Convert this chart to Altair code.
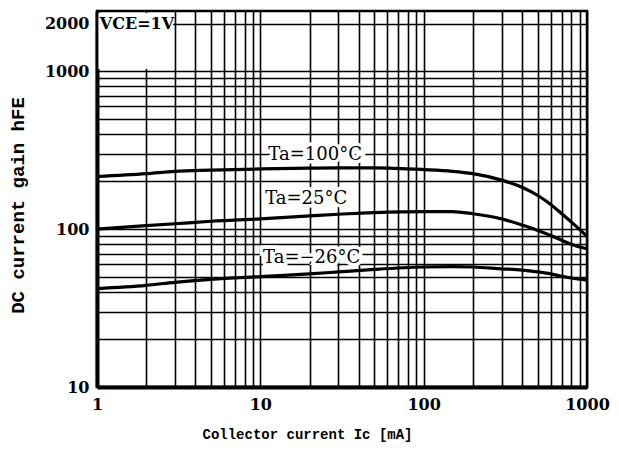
import altair as alt
import pandas as pd

# Collector current Ic [mA]
ic = [1, 2, 3, 5, 10, 20, 30, 50, 100, 150, 200, 300, 400, 500, 600, 700, 800, 1000]
# DC current gain hFE for each ambient temperature
h_100 = [215, 224, 232, 236, 240, 243, 244, 244, 238, 232, 224, 204, 184, 163, 143, 125, 111, 90]
h_25 = [100, 105, 108, 112, 116, 121, 124, 127, 129, 129, 125, 116, 106, 98, 91, 85, 80, 75]
h_m25 = [42, 44, 46, 48, 50, 52, 53.5, 55.5, 57.5, 57.8, 57.5, 56, 55, 53.5, 52, 50.2, 49, 47.5]

series_names = ["Ta=100°C", "Ta=25°C", "Ta=−26°C"]

label_text = ["Ta=100°C", "Ta=25°C", "Ta=−26°C"]
label_x = [11.2, 10.7, 10.4]
label_y = [295, 156, 66]

cond_text = ["VCE=1V"]
cond_x = [1.04]
cond_y = [2000]

box_x = [1.02]
box_x2 = [2.93]
box_y = [1030]
box_y2 = [2330]

x_ticks = [1, 2, 3, 4, 5, 6, 7, 8, 9,
           10, 20, 30, 40, 50, 60, 70, 80, 90,
           100, 200, 300, 400, 500, 600, 700, 800, 900, 1000]
y_ticks = [10, 20, 30, 40, 50, 60, 70, 80, 90,
           100, 200, 300, 400, 500, 600, 700, 800, 900, 1000, 2000]

rows = []
for name, vals in zip(series_names, [h_100, h_25, h_m25]):
    for xv, yv in zip(ic, vals):
        rows.append({"ic": xv, "hfe": yv, "series": name})
curves = pd.DataFrame(rows)
labels = pd.DataFrame({"t": label_text, "x": label_x, "y": label_y})
cond = pd.DataFrame({"t": cond_text, "x": cond_x, "y": cond_y})
box = pd.DataFrame({"x": box_x, "x2": box_x2, "y": box_y, "y2": box_y2})

xscale = alt.Scale(type="log", domain=[1, 1000], nice=False)
yscale = alt.Scale(type="log", domain=[10, 2400], nice=False)

xaxis = alt.Axis(
    values=x_ticks,
    format="d",
    labelExpr="(datum.value==1||datum.value==10||datum.value==100||datum.value==1000) ? datum.label : ''",
    labelOverlap=False,
    labelFlush=False,
    title="Collector current Ic [mA]",
    titleX=210, titleY=47, titleAlign="center", titleBaseline="middle",
    titleFont="Liberation Mono", titleFontSize=14, titleFontWeight="bold",
    labelPadding=9,
)
yaxis = alt.Axis(
    values=y_ticks,
    format="d",
    labelExpr="(datum.value==10||datum.value==100||datum.value==1000||datum.value==2000) ? datum.label : ''",
    labelOverlap=False,
    labelFlush=False,
    title="DC current gain hFE",
    titleX=-80, titleY=194, titleAlign="center", titleBaseline="middle",
    titleFont="Liberation Mono", titleFontSize=19, titleFontWeight="bold",
    labelPadding=8,
)

lines = alt.Chart(curves).mark_line(color="black", strokeWidth=3.2, interpolate="monotone").encode(
    x=alt.X("ic:Q", scale=xscale, axis=xaxis),
    y=alt.Y("hfe:Q", scale=yscale, axis=yaxis),
    detail="series:N",
)

blank = alt.Chart(box).mark_rect(color="white").encode(
    x=alt.X("x:Q", scale=xscale), x2="x2:Q",
    y=alt.Y("y:Q", scale=yscale), y2="y2:Q",
)

halo = alt.Chart(labels).mark_text(
    align="left", baseline="middle", font="DejaVu Serif", fontSize=18,
    stroke="white", strokeWidth=7, color="white",
).encode(x=alt.X("x:Q", scale=xscale), y=alt.Y("y:Q", scale=yscale), text="t:N")

txt = alt.Chart(labels).mark_text(
    align="left", baseline="middle", font="DejaVu Serif", fontSize=18, color="black",
).encode(x=alt.X("x:Q", scale=xscale), y=alt.Y("y:Q", scale=yscale), text="t:N")

cond_txt = alt.Chart(cond).mark_text(
    align="left", baseline="middle", font="DejaVu Serif", fontSize=16,
    fontWeight="bold", color="black",
).encode(x=alt.X("x:Q", scale=xscale), y=alt.Y("y:Q", scale=yscale), text="t:N")

chart = alt.layer(lines, blank, halo, txt, cond_txt).properties(
    width=490, height=376,
    autosize=alt.AutoSizeParams(type="none"),
    padding={"left": 89, "top": 3, "right": 24, "bottom": 57},
    background="white",
).configure_view(
    stroke="black", strokeWidth=2.5,
).configure_axis(
    grid=True, gridColor="black", gridOpacity=1, gridWidth=1.6,
    ticks=False, domain=True, domainColor="black", domainWidth=4,
    labelFont="DejaVu Serif", labelFontSize=16, labelFontWeight="bold",
    labelColor="black", titleColor="black",
)

chart.save("out.html", embed_options={"renderer": "svg", "actions": False})
